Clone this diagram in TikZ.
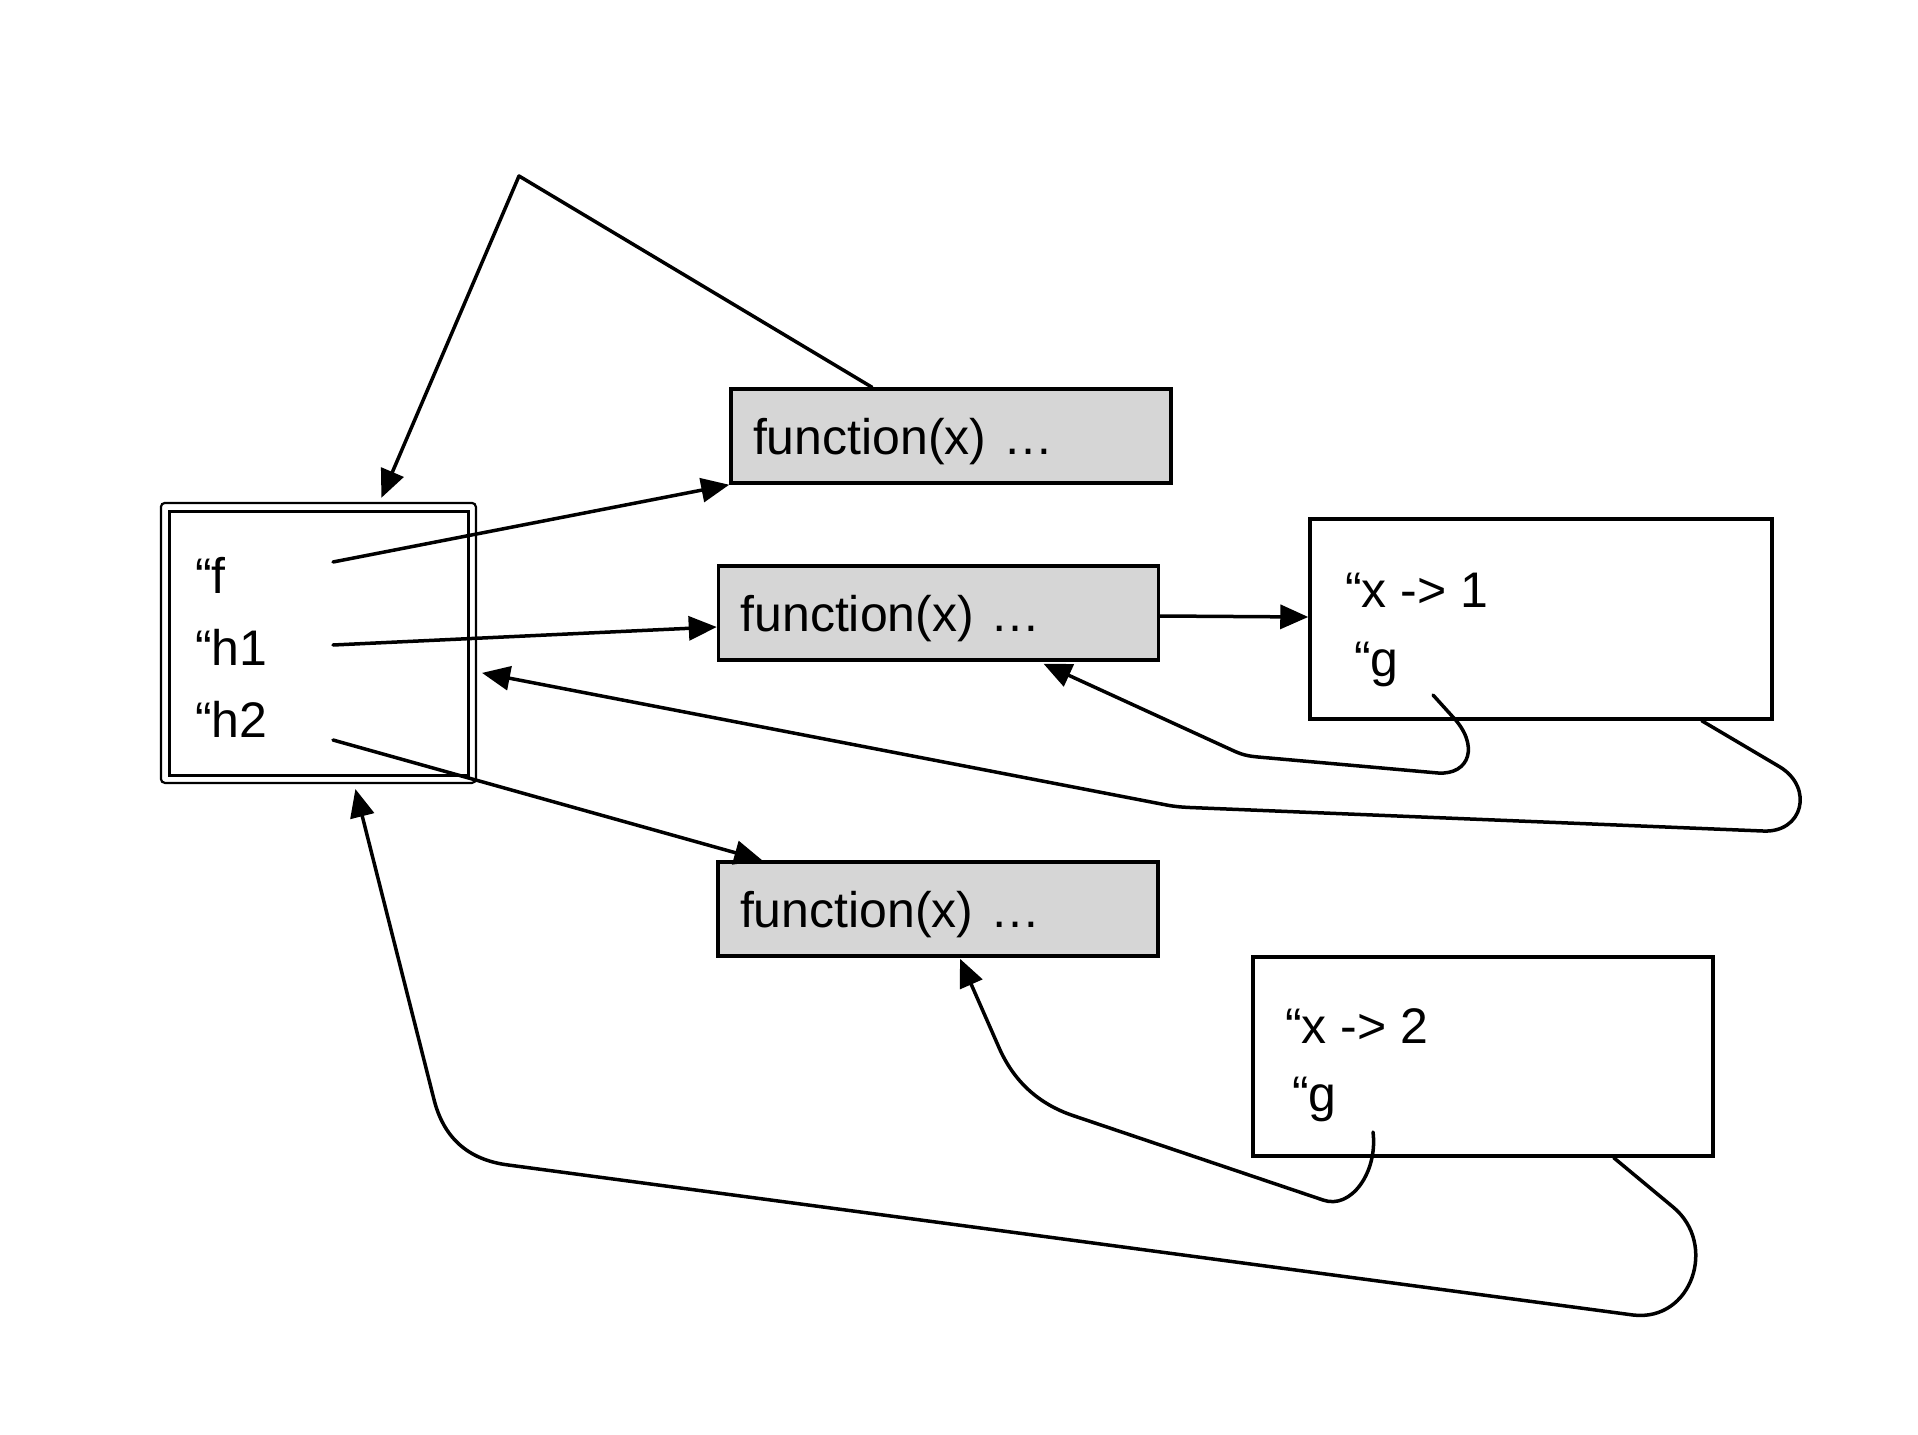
\documentclass[tikz,border=0pt]{standalone}
\usepackage{fontspec}
\setmainfont{Liberation Sans}
\usetikzlibrary{arrows.meta,calc}
\definecolor{boxgray}{HTML}{D6D6D6}
\newcommand\diagfont{\fontsize{50pt}{60pt}\selectfont}
\begin{document}
\begin{tikzpicture}[x=1pt,y=-1pt,
  conn/.style={line width=3.5pt, line cap=round, line join=round},
  arr/.style={conn, -{Triangle[length=28pt,width=24pt]}},
  fbox/.style={draw, line width=3.5pt, fill=boxgray, minimum height=94pt,
    text width=396pt, align=left, inner xsep=22pt, text height=36pt, text depth=0pt, font=\diagfont},
  vbox/.style={draw, line width=3.5pt, minimum width=462pt, minimum height=200pt},
  lbl/.style={anchor=base west, inner sep=0pt, font=\diagfont}]
\useasboundingbox (0,0) rectangle (1918,1434);

% environment box
\node[draw, line width=2.2pt, rounded corners=4pt, minimum width=315pt, minimum height=280pt] (env) at (318.4,642.9) {};
\draw[line width=3pt] ($(env.north west)+(9.5,9.5)$) rectangle ($(env.south east)+(-9,-9)$);
\node[lbl] (tf) at (195,593) {“f};
\node[lbl] (th1) at (195,665) {“h1};
\node[lbl] (th2) at (195,737) {“h2};
\coordinate (fptr) at (333,562);
\coordinate (h1ptr) at (333,645);
\coordinate (h2ptr) at (333,740);

% function boxes
\node[fbox] (ftop) at (951,436) {function(x) …};
\node[fbox] (fmid) at (938.5,613) {function(x) …};
\node[fbox] (fbot) at (938,909) {function(x) …};

% value boxes
\node[vbox] (x1) at (1541,619) {};
\node[lbl] (tx1) at (1345,607) {“x -> 1};
\node[lbl] (tg1) at (1354,676) {“g};
\coordinate (g1ptr) at (1433,695);

\node[vbox, minimum width=460pt, minimum height=199pt] (x2) at (1483,1056.5) {};
\node[lbl] (tx2) at (1285,1043) {“x -> 2};
\node[lbl] (tg2) at (1292,1111) {“g};
\coordinate (g2ptr) at (1373,1132);

\coordinate (apex) at (519,176);

% connectors
\draw[arr] (fptr) -- (ftop.south west);
\draw[arr] (h1ptr) -- ($(fmid.west)+(0,14)$);
\draw[arr] (h2ptr) -- ($(fbot.north west)+(46,0)$);
\draw[arr] ($(fmid.east)+(0,3)$) -- ($(x1.west)+(0,-2)$);
\draw[arr] ($(ftop.north)+(-79,0)$) -- (apex) -- ($(env.north)+(63,-4)$);

\draw[arr] ($(x1.south east)+(-72,0)$) -- (1780,767)
  .. controls (1814,788) and (1803,833) .. (1763,831)
  -- (1190,807.5) .. controls (1180,807) and (1174,806.5) .. (1165,804.7)
  -- ($(env.east)+(5,30)$);

\draw[arr] (g1ptr) -- (1452,716)
  .. controls (1480,745) and (1470,775) .. (1438,773)
  -- (1258,757) .. controls (1248,756) and (1243,755) .. (1234,751)
  -- ($(fmid.south)+(105,2)$);

\draw[arr] ($(x2.south east)+(-101,0)$) -- (1673,1207)
  .. controls (1718,1244) and (1692,1322) .. (1633,1315)
  -- (507.5,1164.9) .. controls (467.8,1159.6) and (443.3,1137.6) .. (433.8,1098.7)
  -- ($(env.south)+(37,5)$);

\draw[arr] (g2ptr) .. controls (1378,1172) and (1351,1210) .. (1323,1200)
  -- (1073.1,1115.6) .. controls (1038.4,1103.9) and (1013.7,1081.2) .. (999,1047.6)
  -- ($(fbot.south)+(22,1)$);
\end{tikzpicture}
\end{document}
